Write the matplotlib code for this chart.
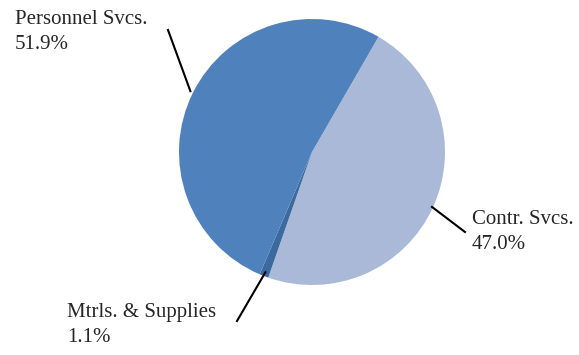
import numpy as np
import matplotlib.pyplot as plt

labels = ['Contr. Svcs.', 'Mtrls. & Supplies', 'Personnel Svcs.']
shares = [47.0, 1.1, 51.9]
colors = ['#AAB9D7', '#3C6A9E', '#4F81BD']

# label placement in pixel coords (x from left, y from top)
text_pos = {'Contr. Svcs.': (472, 210), 'Mtrls. & Supplies': (67, 303), 'Personnel Svcs.': (15, 10)}
line_out = {'Contr. Svcs.': (465, 232), 'Mtrls. & Supplies': (237, 321), 'Personnel Svcs.': (168, 30)}
line_rad = {'Contr. Svcs.': 132, 'Mtrls. & Supplies': 129, 'Personnel Svcs.': 136}

W, H = 579, 355
cx, cy, r = 312, 152, 133

plt.rcParams['font.family'] = ['Liberation Serif', 'DejaVu Serif']
fig = plt.figure(figsize=(W / 100, H / 100), dpi=100)
ax = fig.add_axes([0, 0, 1, 1])

wedges, _ = ax.pie(shares, colors=colors, startangle=60, counterclock=False,
                   center=(cx, H - cy), radius=r, frame=True,
                   wedgeprops=dict(linewidth=0))
ax.set_xlim(0, W)
ax.set_ylim(0, H)
ax.axis('off')

for w, lab, val in zip(wedges, labels, shares):
    mid = np.deg2rad((w.theta1 + w.theta2) / 2)
    rr = line_rad[lab]
    x0 = cx + rr * np.cos(mid)
    y0 = H - cy + rr * np.sin(mid)
    ox, oy = line_out[lab]
    ax.plot([x0, ox], [y0, H - oy], color='black', lw=1.5)
    tx, ty = text_pos[lab]
    ax.text(tx, H - ty, lab + '\n' + f'{val:.1f}%', fontsize=15, color='#262626',
            ha='left', va='top', linespacing=1.45)

fig.savefig('out.png', dpi=100)
